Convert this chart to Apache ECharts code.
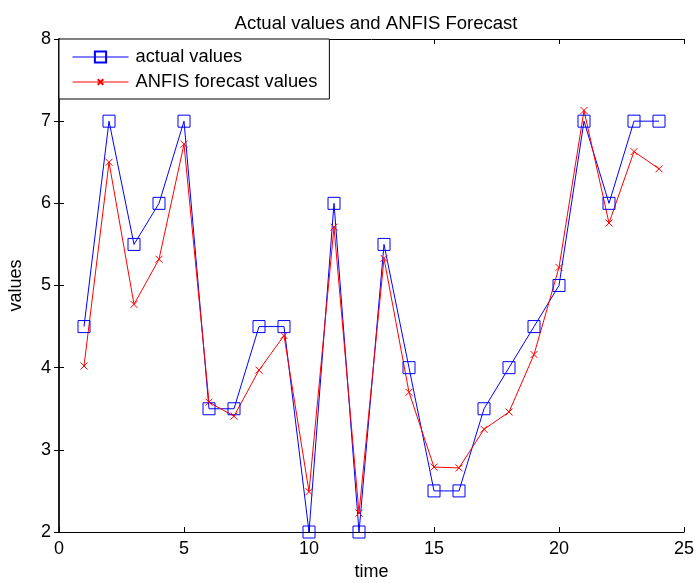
<!DOCTYPE html>
<html>
<head>
<meta charset="utf-8">
<script src="https://cdn.jsdelivr.net/npm/echarts@6/dist/echarts.min.js"></script>
<style>
html,body{margin:0;padding:0;background:#fff;}
#chart{width:695px;height:583px;}
</style>
</head>
<body>
<div id="chart"></div>
<script>
var time = [1,2,3,4,5,6,7,8,9,10,11,12,13,14,15,16,17,18,19,20,21,22,23,24];
var actualValues = [4.5,7,5.5,6,7,3.5,3.5,4.5,4.5,2,6,2,5.5,4,2.5,2.5,3.5,4,4.5,5,7,6,7,7];
var anfisValues = [4.02,6.50,4.77,5.32,6.72,3.58,3.41,3.97,4.39,2.49,5.71,2.23,5.33,3.70,2.79,2.78,3.25,3.46,4.16,5.22,7.13,5.76,6.63,6.42];
var xTicks = [0,5,10,15,20,25];
var yTicks = [2,3,4,5,6,7,8];

var FONT = 'Liberation Sans';
function pairs(xs, ys){ return xs.map(function(x,i){ return [x, ys[i]]; }); }

var chart = echarts.init(document.getElementById('chart'), null, {renderer:'canvas'});
var tickStyle = {show:true, inside:true, length:5, lineStyle:{color:'#000', width:1}};
var lineAx = {show:true, lineStyle:{color:'#000', width:1}};
chart.setOption({
  animation:false,
  backgroundColor:'#fff',
  title:{
    text:'Actual values and ANFIS Forecast',
    left:371, top:9, textAlign:'center',
    textStyle:{fontFamily:FONT, fontSize:18.5, fontWeight:'normal', color:'#000'}
  },
  grid:{left:59, right:11, top:39, bottom:51, containLabel:false, outerBoundsMode:'none'},
  legend:{
    left:59, top:39, orient:'vertical',
    backgroundColor:'#fff', borderColor:'#000', borderWidth:1, borderRadius:0,
    padding:[9,12,8,13], itemGap:7, itemWidth:56, itemHeight:14,
    lineStyle:{width:1},
    textStyle:{fontFamily:FONT, fontSize:18.3, color:'#000', padding:[0,0,0,2]},
    data:['actual values','ANFIS forecast values']
  },
  xAxis:[{
    type:'value', min:xTicks[0], max:xTicks[xTicks.length-1], interval:5, position:'bottom',
    axisLine:lineAx, axisTick:tickStyle, splitLine:{show:false},
    axisLabel:{fontFamily:FONT, fontSize:18, color:'#000', margin:8},
    name:'time', nameLocation:'middle', nameGap:31,
    nameTextStyle:{fontFamily:FONT, fontSize:18, color:'#000'}
  },{
    type:'value', min:xTicks[0], max:xTicks[xTicks.length-1], interval:5, position:'top',
    axisLine:lineAx, axisTick:tickStyle, splitLine:{show:false}, axisLabel:{show:false}
  }],
  yAxis:[{
    type:'value', min:yTicks[0], max:yTicks[yTicks.length-1], interval:1, position:'left',
    axisLine:lineAx, axisTick:tickStyle, splitLine:{show:false},
    axisLabel:{fontFamily:FONT, fontSize:18, color:'#000', margin:8},
    name:'values', nameLocation:'middle', nameGap:34, nameRotate:90,
    nameTextStyle:{fontFamily:FONT, fontSize:18, color:'#000'}
  },{
    type:'value', min:yTicks[0], max:yTicks[yTicks.length-1], interval:1, position:'right',
    axisLine:{show:true, lineStyle:{color:'#222', width:2}}, axisTick:tickStyle, splitLine:{show:false}, axisLabel:{show:false}
  }],
  series:[{
    name:'actual values', type:'line', data:pairs(time, actualValues),
    symbol:'rect', symbolSize:12, showAllSymbol:true,
    lineStyle:{color:'#0000ff', width:1},
    itemStyle:{color:'rgba(0,0,0,0)', borderColor:'#0000ff', borderWidth:1}
  },{
    name:'ANFIS forecast values', type:'line', data:pairs(time, anfisValues),
    symbol:'path://M-5,-5M15,15M0,0L10,10M10,0L0,10', symbolSize:14, showAllSymbol:true,
    lineStyle:{color:'#ff0000', width:1},
    itemStyle:{color:'rgba(0,0,0,0)', borderColor:'#ff0000', borderWidth:1}
  }]
});
</script>
</body>
</html>
